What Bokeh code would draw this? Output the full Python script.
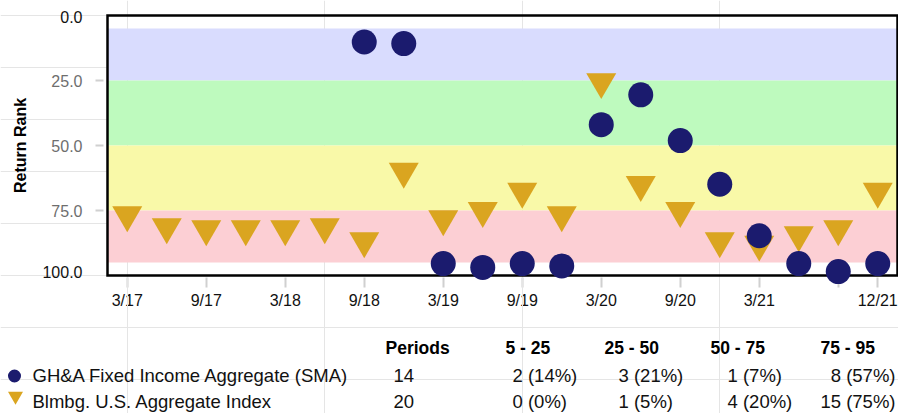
import math
import numpy as np
from bokeh.plotting import figure
from bokeh.models import (Range1d, BoxAnnotation, Label, FixedTicker, LinearAxis,
                          ColumnDataSource, NumeralTickFormatter)
from bokeh.embed import file_html
from bokeh.resources import INLINE
from bokeh.transform import dodge

# ---------------- data ----------------
quarters = ["3/17", "6/17", "9/17", "12/17", "3/18", "6/18", "9/18", "12/18",
            "3/19", "6/19", "9/19", "12/19", "3/20", "6/20", "9/20", "12/20",
            "3/21", "6/21", "9/21", "12/21"]
labeled_ticks = [0, 2, 4, 6, 8, 10, 12, 14, 16, 18, 19]
hidden_tick_labels = [18]

gha_rank = [None, None, None, None, None, None, 10.2, 10.8, 95.4, 96.9,
            95.4, 96.3, 42.0, 30.5, 48.1, 64.9, 84.7, 95.4, 98.5, 95.4]
bbg_rank = [78.3, 82.9, 83.7, 83.7, 83.7, 82.9, 88.3, 61.6, 79.8, 76.7,
            69.3, 78.3, 27.1, 66.7, 76.7, 88.3, 89.6, 86.0, 83.7, 69.3]

band_low = [5, 25, 50, 75]
band_high = [25, 50, 75, 95]
band_colors = ["#D9DCFE", "#BEFABE", "#F9F9A8", "#FCCFD4"]
bucket_labels = ["5 - 25", "25 - 50", "50 - 75", "75 - 95"]

y_ticks = [25, 50, 75]
y_end_ticks = [0, 100]

series_names = ["GH&A Fixed Income Aggregate (SMA)", "Blmbg. U.S. Aggregate Index"]
series_colors = ["#1B1B6E", "#DAA520"]

FONT = "Liberation Sans"

# ---------------- layout constants ----------------
W, H = 898, 413
FL, FR, FT, FB = 107, 897, 15, 275          # chart area edges in page pixels
X0, X1 = -0.5, 19.5                         # chart x extent (data)
Y0, Y1 = 0, 100                             # chart y extent (data, top->bottom)
SX = (X1 - X0) / (FR - FL)
SY = (Y1 - Y0) / (FB - FT)


def px_x(px):
    return X0 + (px - FL) * SX


def px_y(py):
    return Y0 + (py - FT) * SY


# the canvas-wide frame keeps the chart area at FL..FR / FT..FB
p = figure(width=W, height=H, output_backend="svg", toolbar_location=None,
           x_range=Range1d(px_x(0), px_x(W)), y_range=Range1d(px_y(H), px_y(0)),
           x_axis_location=None, y_axis_location=None, min_border=0)
p.outline_line_color = None
p.background_fill_color = "white"
p.border_fill_color = "white"

for lo, hi, c in zip(band_low, band_high, band_colors):
    p.add_layout(BoxAnnotation(left=X0, right=X1, bottom=lo, top=hi,
                               fill_color=c, fill_alpha=1, line_alpha=0,
                               level="underlay"))

# chart area border
p.quad(left=[X0], right=[X1], top=[Y0], bottom=[Y1], fill_color=None,
       line_color="#000000", line_width=2.5, line_join="miter")

# ---------------- axes ----------------
xa = LinearAxis(fixed_location=Y1, ticker=FixedTicker(ticks=labeled_ticks))
xa.major_label_overrides = {i: ("" if i in hidden_tick_labels else quarters[i])
                            for i in labeled_ticks}
xa.axis_line_color = None
xa.major_tick_line_color = "#D0D0D0"
xa.major_tick_line_width = 2
xa.major_tick_in = -2
xa.major_tick_out = 12
xa.minor_tick_line_color = None
xa.major_label_standoff = 4
xa.major_label_text_font = FONT
xa.major_label_text_font_size = "16px"
xa.major_label_text_color = "#111111"
xa.level = "underlay"
p.add_layout(xa, "below")

ya = LinearAxis(fixed_location=X0, ticker=FixedTicker(ticks=y_ticks),
                formatter=NumeralTickFormatter(format="0.0"))
ya.axis_line_color = None
ya.major_tick_line_color = "#D0D0D0"
ya.major_tick_line_width = 2
ya.major_tick_in = -4
ya.major_tick_out = 12
ya.minor_tick_line_color = None
ya.major_label_standoff = 13
ya.major_label_text_font = FONT
ya.major_label_text_font_size = "16px"
ya.major_label_text_color = "#6E6E6E"
ya.level = "underlay"
p.add_layout(ya, "left")

# ---------------- series ----------------
bx = [i for i, v in enumerate(bbg_rank) if v is not None]
by = [v for v in bbg_rank if v is not None]
src_b = ColumnDataSource(dict(x=bx, y=by))
p.scatter("x", dodge("y", -1.6), source=src_b, marker="inverted_triangle",
          size=30, fill_color=series_colors[1], line_color=None)

gx = [i for i, v in enumerate(gha_rank) if v is not None]
gy = [v for v in gha_rank if v is not None]
src_g = ColumnDataSource(dict(x=gx, y=gy))
p.scatter("x", "y", source=src_g, marker="circle", size=25,
          fill_color=series_colors[0], line_color=None)


def put(text, px, py, align="left", size="18.5px", bold=False, color="#111111",
        angle=0.0):
    p.add_layout(Label(x=px_x(px), y=px_y(py), text=text, text_align=align,
                       text_baseline="middle", text_font=FONT,
                       text_font_size=size,
                       text_font_style="bold" if bold else "normal",
                       text_color=color, angle=angle))


# y axis end labels (black) and axis title
for v, py in zip(y_end_ticks, [16.5, 271.5]):
    put(f"{v:.1f}", 82, py, align="right", size="16px", color="#111111")
put("Return Rank", 20, 145, align="center", size="16px", bold=True,
    color="#000000", angle=math.pi / 2)

# ---------------- summary table ----------------
def bucket_counts(vals):
    vv = [v for v in vals if v is not None]
    counts = [0] * len(band_high)
    for v in vv:
        k = len(band_high) - 1
        for j, hi in enumerate(band_high[:-1]):
            if v <= hi:
                k = j
                break
        counts[k] += 1
    return len(vv), counts


header_py = 347.5
row_py = [375, 401]
header_px = [385, 505, 604, 710, 820]
name_px = 32
periods_px = 393
cell_px = [512, 618, 727]
last_cell_right_px = 895

for txt, hx in zip(["Periods"] + bucket_labels, header_px):
    put(txt, hx, header_py, size="17.5px", bold=True, color="#000000")

p.scatter(x=[px_x(14)], y=[px_y(375.5)], marker="circle", size=13,
          fill_color=series_colors[0], line_color=None)
p.scatter(x=[px_x(15)], y=[px_y(395.5)], marker="inverted_triangle", size=15,
          fill_color=series_colors[1], line_color=None)

for name, vals, ry in zip(series_names, [gha_rank, bbg_rank], row_py):
    n, counts = bucket_counts(vals)
    put(name, name_px, ry)
    put(str(n), periods_px, ry)
    cells = [f"{c} ({round(100 * c / n)}%)" for c in counts]
    for txt, cx in zip(cells[:-1], cell_px):
        put(txt, cx, ry)
    put(cells[-1], last_cell_right_px, ry, align="right")

open("out.html", "w").write(file_html(p, INLINE))
